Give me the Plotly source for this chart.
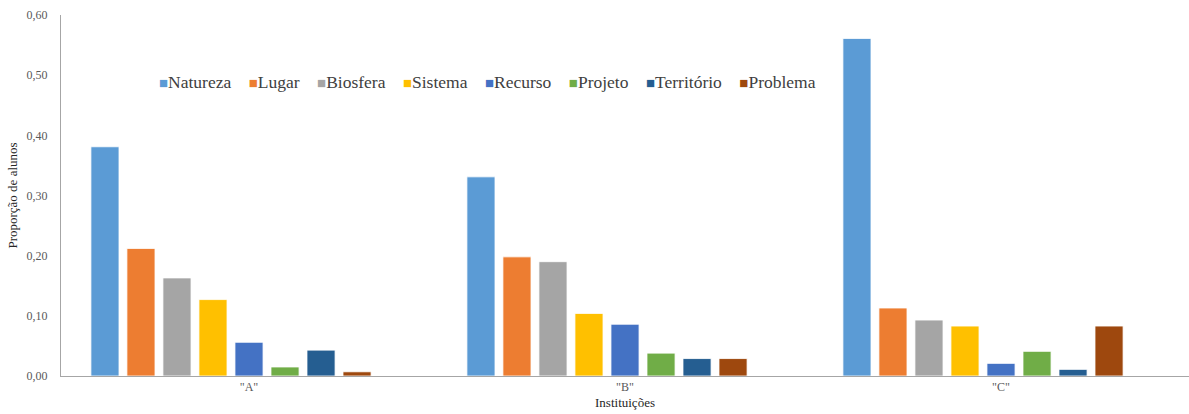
import plotly.graph_objects as go

categories = ['"A"', '"B"', '"C"']
series_names = ["Natureza", "Lugar", "Biosfera", "Sistema", "Recurso", "Projeto", "Território", "Problema"]
natureza = [0.381, 0.331, 0.561]
lugar = [0.212, 0.198, 0.113]
biosfera = [0.163, 0.190, 0.093]
sistema = [0.127, 0.104, 0.083]
recurso = [0.056, 0.086, 0.021]
projeto = [0.015, 0.038, 0.041]
territorio = [0.043, 0.029, 0.011]
problema = [0.007, 0.029, 0.083]
series_values = [natureza, lugar, biosfera, sistema, recurso, projeto, territorio, problema]
colors = ["#5B9BD5", "#ED7D31", "#A5A5A5", "#FFC000", "#4472C4", "#70AD47", "#255E91", "#9E480E"]
y_ticks = [0.0, 0.1, 0.2, 0.3, 0.4, 0.5, 0.6]

SERIF = "Liberation Serif"

fig = go.Figure()
for name, vals, col in zip(series_names, series_values, colors):
    fig.add_trace(go.Bar(
        x=categories, y=vals, name=name,
        marker=dict(color=col, line=dict(color="rgba(255,255,255,0.8)", width=1)),
        showlegend=False,
    ))
# empty ninth series slot (as in the original chart)
fig.add_trace(go.Bar(x=categories, y=[None] * len(categories), name="", showlegend=False, hoverinfo="skip"))

plot_w = 1189 - 61
plot_h = 414 - 15 - 38

legend_text = "\u00a0\u00a0\u00a0\u00a0".join(
    f'<span style="color:{c}; font-size:15px">■</span>{n}' for n, c in zip(series_names, colors)
)
fig.add_annotation(
    x=(157 - 61) / plot_w, y=(414 - 38 - 82) / plot_h, xref="paper", yref="paper",
    text=legend_text, showarrow=False,
    xanchor="left", yanchor="middle", font=dict(family=SERIF, size=17.5, color="#404040"),
)

fig.update_layout(
    width=1189, height=414,
    margin=dict(l=61, r=0, t=15, b=38),
    paper_bgcolor="white", plot_bgcolor="white",
    barmode="group", bargap=0.138, bargroupgap=0.22,
    separators=",.",
    font=dict(family=SERIF, size=12, color="#595959"),
)

fig.update_yaxes(
    range=[0, 0.6], tickvals=y_ticks, tickformat=".2f",
    showgrid=False, zeroline=False, showline=True, linecolor="#A6A6A6", linewidth=1,
    ticks="", ticklabelstandoff=10,
    tickfont=dict(family=SERIF, size=12, color="#595959"),
    title=dict(text="Proporção de alunos", font=dict(family=SERIF, size=13, color="#262626"), standoff=6),
)
fig.update_xaxes(
    showgrid=False, showline=True, linecolor="#A6A6A6", linewidth=1, ticks="",
    tickfont=dict(family=SERIF, size=12, color="#595959"),
    title=dict(text="Instituições", font=dict(family=SERIF, size=13, color="#262626"), standoff=4),
)

fig.write_html("out.html")
